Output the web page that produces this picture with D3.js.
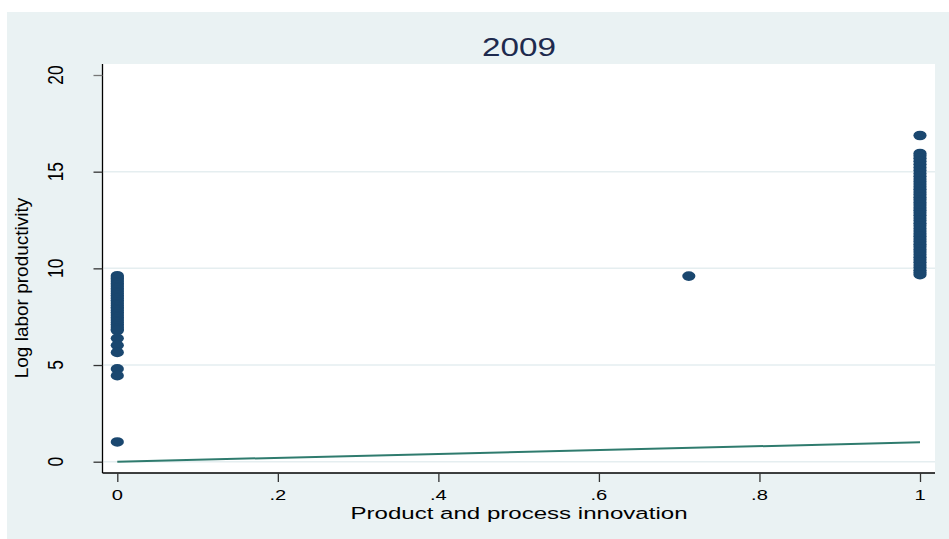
<!DOCTYPE html>
<html>
<head>
<meta charset="utf-8">
<script src="https://cdn.jsdelivr.net/npm/d3@7"></script>
<style>
  html, body { margin: 0; padding: 0; background: #ffffff; }
  svg text { font-family: "Liberation Sans", Arial, Helvetica, sans-serif; }
</style>
</head>
<body>
<script>
// Log labor productivity by product & process innovation, 2009
const titleText = "2009";
const xTitle = "Product and process innovation";
const yTitle = "Log labor productivity";

const xTicks = [0, 0.2, 0.4, 0.6, 0.8, 1];
const xTickLabels = ["0", ".2", ".4", ".6", ".8", "1"];
const yTicks = [0, 5, 10, 15, 20];
const yGrid = [0, 5, 10, 15];

// firms with no innovation (x = 0)
const noInnovation = [9.62, 9.55, 9.47, 9.40, 9.31, 9.22, 9.14, 9.05, 8.96, 8.88,
  8.79, 8.70, 8.61, 8.52, 8.44, 8.35, 8.26, 8.17, 8.08, 7.99, 7.91, 7.82, 7.73,
  7.64, 7.55, 7.46, 7.38, 7.29, 7.20, 7.11, 7.02, 6.93, 6.85, 6.78,
  6.38, 6.02, 5.65, 4.80, 4.45, 1.02];

// partial innovation firm
const partialX = [0.712];
const partialY = [9.60];

// firms with both product and process innovation (x = 1)
const fullInnovation = [16.87, 15.94, 15.83, 15.69, 15.54, 15.38, 15.22, 15.06,
  14.90, 14.76, 14.62, 14.49, 14.36, 14.22, 14.09, 13.95, 13.82, 13.68, 13.55,
  13.41, 13.28, 13.14, 13.01, 12.87, 12.74, 12.60, 12.47, 12.33, 12.20, 12.06,
  11.93, 11.79, 11.66, 11.52, 11.39, 11.25, 11.12, 10.98, 10.85, 10.71, 10.58,
  10.44, 10.31, 10.17, 10.04, 9.90, 9.78, 9.67];

// reference line
const lineX = [0, 1];
const lineY = [0, 1];

const W = 949, H = 539;
const bg = "#eaf2f3";
const navy = "#1a476f";

const svg = d3.select("body").append("svg")
  .attr("width", W).attr("height", H);

// outer graph region
svg.append("rect").attr("x", 7).attr("y", 12)
  .attr("width", W - 7).attr("height", H - 12).attr("fill", bg);

// plot region
const plot = { left: 102.5, right: 935, top: 64, bottom: 473 };
svg.append("rect").attr("x", plot.left).attr("y", plot.top)
  .attr("width", plot.right - plot.left).attr("height", plot.bottom - plot.top)
  .attr("fill", "#ffffff");

const x = d3.scaleLinear().domain([0, 1]).range([117.3, 920]);
const y = d3.scaleLinear().domain([0, 20]).range([461.7, 75]);

// gridlines
svg.append("g").selectAll("line").data(yGrid).join("line")
  .attr("x1", plot.left + 1).attr("x2", plot.right)
  .attr("y1", d => y(d)).attr("y2", d => y(d))
  .attr("stroke", "#e5eef0").attr("stroke-width", 1.5);

// y axis
const yAxis = svg.append("g").attr("transform", `translate(${plot.left},0)`)
  .call(d3.axisLeft(y).tickValues(yTicks).tickSize(9).tickFormat(""));
yAxis.select(".domain").attr("d", `M0,${plot.top}V${plot.bottom}`)
  .attr("stroke", "#000").attr("stroke-width", 1.3);
yAxis.selectAll(".tick line").attr("stroke", "#333").attr("stroke-width", 1.3);
yAxis.selectAll(".tick").filter(d => d === 20).select("line").attr("stroke", "#777");

svg.append("g").selectAll("text").data(yTicks).join("text")
  .attr("transform", d => `translate(63,${y(d)}) rotate(-90) scale(1.05,1.3)`)
  .attr("text-anchor", "middle")
  .attr("font-size", 16.5)
  .attr("fill", "#000")
  .text(d => d);

// x axis
const xAxis = svg.append("g").attr("transform", `translate(0,${plot.bottom})`)
  .call(d3.axisBottom(x).tickValues(xTicks).tickSize(9).tickFormat(""));
xAxis.select(".domain").attr("d", `M${plot.left},0H${plot.right}`)
  .attr("stroke", "#000").attr("stroke-width", 1.3);
xAxis.selectAll(".tick line").attr("stroke", "#333").attr("stroke-width", 1.3);

svg.append("g").selectAll("text").data(xTicks).join("text")
  .attr("transform", d => `translate(${x(d)},499.5) scale(1.3,1)`)
  .attr("text-anchor", "middle")
  .attr("font-size", 15.5)
  .attr("fill", "#000")
  .text((d, i) => xTickLabels[i]);

// titles
svg.append("text")
  .attr("transform", "translate(519,56) scale(1.28,1)")
  .attr("text-anchor", "middle").attr("font-size", 26)
  .attr("fill", "#1e2a4e").text(titleText);

svg.append("text")
  .attr("transform", "translate(519,519) scale(1.4,1)")
  .attr("text-anchor", "middle").attr("font-size", 17.2)
  .attr("fill", "#000").text(xTitle);

svg.append("text")
  .attr("transform", "translate(28,288) rotate(-90)")
  .attr("text-anchor", "middle").attr("font-size", 19)
  .attr("fill", "#000").text(yTitle);

// reference line
const line = d3.line().x(d => x(d[0])).y(d => y(d[1]));
svg.append("path")
  .datum(lineX.map((v, i) => [v, lineY[i]]))
  .attr("d", line)
  .attr("fill", "none").attr("stroke", "#2f7b6e").attr("stroke-width", 2);

// scatter markers
const points = [
  ...noInnovation.map(v => [0, v]),
  ...partialX.map((v, i) => [v, partialY[i]]),
  ...fullInnovation.map(v => [1, v])
];
svg.append("g").selectAll("ellipse").data(points).join("ellipse")
  .attr("cx", d => x(d[0])).attr("cy", d => y(d[1]))
  .attr("rx", 6.6).attr("ry", 4.8)
  .attr("fill", navy);
</script>
</body>
</html>
